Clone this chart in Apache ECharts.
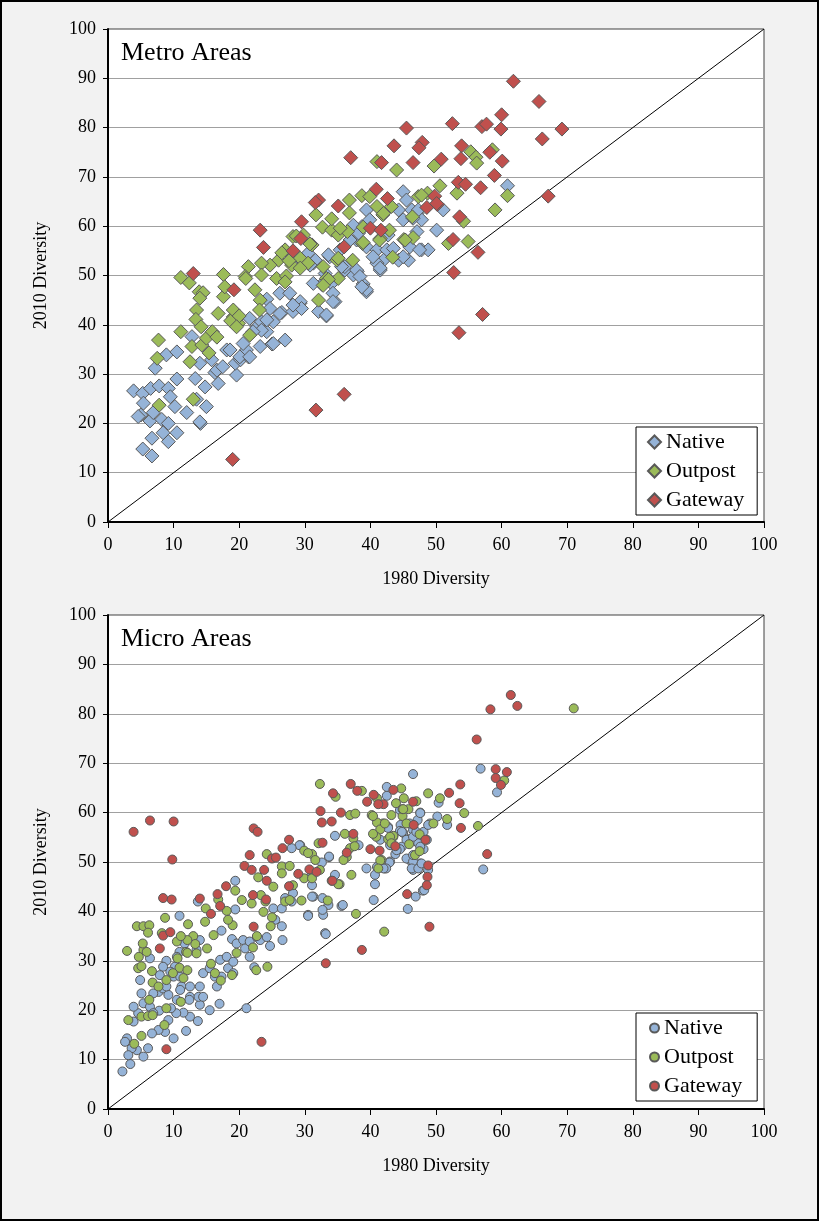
<!DOCTYPE html>
<html>
<head>
<meta charset="utf-8">
<script src="https://cdn.jsdelivr.net/npm/echarts@6/dist/echarts.min.js"></script>
<style>
html,body{margin:0;padding:0;background:#f2f2f2;}
#frame{position:absolute;left:0;top:0;width:819px;height:1221px;box-sizing:border-box;border:2px solid #000;pointer-events:none;z-index:2;}
#chart{position:absolute;left:0;top:0;width:819px;height:1221px;}
</style>
</head>
<body>
<div id="chart"></div>
<div id="frame"></div>
<script>
// ---------- data ----------
const seriesNames = ['Native', 'Outpost', 'Gateway'];
const panelTitles = ['Metro Areas', 'Micro Areas'];
const xTitle = '1980 Diversity';
const yTitle = '2010 Diversity';
const diagonal = [[0, 0], [100, 100]];

const metroNative = [
[3.9,26.6],[5.3,26.1],[6.5,27.1],[7.8,27.6],[5.4,24.1],[5.0,21.7],[6.4,20.5],[4.6,21.4],[6.9,22.2],[8.2,20.8],[9.2,20.0],[8.4,18.1],[10.5,18.1],[9.2,16.3],[6.7,17.0],[5.3,14.8],[6.7,13.4],[9.2,27.1],[9.5,25.4],[10.5,29.0],[10.2,23.4],[12.0,22.2],[14.1,20.0],[15.0,23.4],[13.5,24.9],[13.3,29.1],[14.8,27.4],[16.3,30.3],[16.8,28.1],[18.1,34.9],[19.6,29.8],[19.4,32.2],[20.2,32.9],[21.4,33.5],[21.1,34.9],[23.2,35.6],[24.2,38.6],[25.0,36.1],[27.0,36.9],[22.7,39.6],[26.5,42.5],[25.2,40.6],[23.4,40.6],[24.2,45.2],[26.2,46.4],[27.7,46.4],[29.3,44.4],[28.2,42.7],[32.1,42.7],[33.3,41.8],[34.6,44.7],[32.6,48.2],[31.3,48.4],[38.0,50.8],[38.9,48.3],[39.4,46.7],[41.5,51.1],[44.3,53.1],[45.8,53.1],[37.4,50.1],[36.1,51.1],[31.3,52.5],[28.2,52.8],[7.2,31.2],[8.9,33.9],[10.5,34.5],[12.8,37.6],[14.0,32.2],[15.8,32.9],[16.6,30.8],[17.5,31.5],
[45.0,67.0],[45.5,65.3],[44.3,63.3],[45.0,61.3],[46.3,63.3],[47.1,62.6],[47.8,61.3],[47.1,58.9],[45.3,57.2],[46.0,55.8],[45.0,53.8],[47.8,55.2],[48.8,55.2],[50.1,59.2],[51.1,63.3],[39.4,63.3],[39.9,61.3],[38.7,59.9],[37.4,60.2],[37.9,57.2],[39.4,55.8],[41.0,55.2],[42.5,55.2],[43.5,55.5],[42.0,53.1],[41.0,52.5],[40.4,53.8],[37.9,51.1],[38.4,49.8],[39.4,47.1],[38.7,47.7],[36.1,51.8],[33.8,53.8],[35.4,55.2],[31.6,53.1],[30.8,52.1],[33.1,50.4],[34.1,48.4],[34.3,46.4],[33.3,42.0],[29.3,44.7],[29.5,43.3],[28.2,44.0],[26.2,42.3],[24.7,43.3],[24.2,41.0],[23.4,38.9],[25.2,36.2],[21.6,41.3],[22.1,38.6],[20.6,36.2],[20.1,33.5],[21.6,33.5],[18.6,34.9],
[60.9,68.2],[47.3,63.3],[46.5,61.6],[42.7,58.2],[36.9,57.2],[38.2,58.6],[47.5,55.2],[41.5,51.5],[34.3,44.7],[30.5,54.5],[33.6,54.2],[35.6,51.8],[14.0,20.3]
];
const metroOutpost = [
[32.7,59.8],[34.1,59.2],[35.1,58.2],[36.5,58.9],[38.9,59.8],[41.5,57.5],[42.9,59.2],[45.1,57.3],[46.5,57.7],[46.4,61.9],[47.3,66.0],[48.7,66.7],[54.9,56.9],[51.9,56.5],[53.2,66.7],[31.1,56.2],[29.8,58.2],[28.2,57.9],[27.0,55.2],[26.0,53.1],[24.7,52.1],[23.4,52.5],[21.4,51.8],[20.9,49.8],[23.4,50.1],[25.7,49.4],[27.2,49.9],[28.0,52.1],[29.3,53.5],[30.5,52.5],[32.8,51.8],[33.3,49.4],[35.1,49.4],[34.9,53.1],[37.3,53.1],[38.8,56.5],[43.4,53.7],[22.4,47.1],[23.2,45.0],[21.6,37.9],[19.1,41.6],[19.9,40.3],[27.0,48.7],[32.1,45.0],
[44.0,71.4],[41.0,73.1],[49.7,72.2],[55.3,75.1],[56.1,74.0],[56.2,72.8],[58.6,75.5],[50.6,68.2],[60.9,66.2],[59.0,63.3],[47.8,66.3],[36.8,65.3],[36.8,62.7],[38.7,66.2],[39.9,66.0],[41.0,64.0],[41.9,62.3],[43.2,64.0],[31.7,62.3],[34.1,61.5],[35.4,59.6],[38.9,56.7],[45.3,57.2],[41.4,57.2],[30.8,56.4],[54.2,61.0],[35.1,53.5],[29.3,51.5],[33.6,49.2],[32.8,48.0],
[11.1,49.6],[12.4,48.5],[17.6,50.2],[13.9,46.7],[14.5,46.5],[14.0,45.4],[17.6,45.7],[17.8,47.7],[21.0,49.4],[23.1,43.0],[13.5,43.0],[13.4,41.1],[14.2,39.6],[16.8,42.3],[18.7,40.8],[19.1,43.0],[20.0,41.8],[19.6,39.6],[11.1,38.6],[7.7,36.9],[7.5,33.2],[12.5,32.5],[12.8,35.6],[14.3,35.9],[15.0,37.3],[15.9,38.6],[16.6,37.5],[15.4,34.3],[13.0,24.9],[7.8,23.7],[26.5,54.6],[27.6,53.0],[28.7,58.0],[42.0,62.6]
];
const metroGateway = [
[61.8,89.4],[65.7,85.3],[60.0,82.6],[69.2,79.7],[59.9,79.7],[57.0,80.2],[57.7,80.7],[52.5,80.8],[45.5,79.9],[66.2,77.7],[43.6,76.3],[47.9,77.0],[47.4,75.9],[53.9,76.3],[58.2,75.0],[37.0,73.9],[41.7,72.9],[46.5,72.9],[50.8,73.6],[53.8,73.7],[60.1,73.2],[58.9,70.3],[53.4,68.9],[54.5,68.5],[56.8,67.8],[40.9,67.5],[42.6,65.6],[49.8,66.1],[50.2,64.4],[48.6,63.8],[32.1,65.3],[31.6,64.8],[35.1,64.1],[29.5,60.9],[67.1,66.1],[53.6,61.9],[40.0,59.6],[41.6,59.2],[29.4,57.5],[36.0,55.8],[52.6,57.3],[56.4,54.7],[52.7,50.6],[57.1,42.1],[53.5,38.4],[23.2,59.2],[23.7,55.7],[28.2,55.0],[13.0,50.4],[19.2,47.1],[36.0,25.9],[31.7,22.7],[19.0,12.7],[50.1,64.6]
];

const microNative = [
[56.8,68.9],[46.5,67.8],[59.3,64.1],[57.2,48.5],[45.7,40.5],[46.9,43.0],[48.0,44.2],[42.5,63.4],[50.4,62.0],[51.7,57.5],[50.2,59.2],[47.6,60.0],[47.2,58.5],[49.1,57.8],[48.1,56.1],[46.5,56.5],[45.0,55.9],[43.8,51.6],[45.8,54.6],[47.3,53.8],[48.1,52.6],[46.0,50.4],[46.5,48.4],[47.6,49.7],[48.8,48.4],[43.0,50.1],[42.2,48.7],[41.5,54.5],[42.7,57.1],
[44.6,57.5],[46.0,57.8],[42.7,56.9],[34.6,55.3],[38.2,53.4],[33.7,51.0],[32.6,49.9],[29.3,53.4],[39.4,48.7],[40.7,47.4],[41.0,49.0],[42.9,49.9],[42.4,48.7],[40.7,45.5],[40.5,42.3],[44.5,56.3],[44.8,53.1],[45.5,54.5],[46.5,55.1],[44.5,52.6],[45.5,50.7],[46.5,50.1],[46.3,48.7],[47.3,48.7],[47.8,49.7],[48.2,44.3],[31.1,47.7],[31.3,43.0],[32.7,42.7],[33.6,41.3],[35.6,41.1],[30.5,39.3],[32.8,39.3],[33.1,35.6],
[42.5,65.2],[44.5,60.5],[47.6,59.9],[47.0,56.1],[44.8,56.1],[43.0,53.4],[44.0,52.4],[47.6,53.1],[46.5,51.4],[48.6,54.5],[48.8,57.5],
[10.9,39.1],[19.4,46.2],[19.4,40.4],[17.3,36.1],[18.9,34.4],[19.6,33.5],[20.6,34.2],[20.9,32.5],[21.6,33.9],[22.7,34.8],[21.6,30.8],[22.3,28.7],[23.2,34.2],[24.2,34.8],[24.7,33.0],[25.2,40.6],[25.5,38.3],[26.5,37.0],[26.6,34.2],[27.0,42.7],[28.2,43.7],[29.2,53.4],[28.0,52.8],[30.5,39.1],[31.1,43.0],[33.2,35.4],[33.7,51.1],[34.6,47.4],[35.8,41.3],[32.7,40.3],[31.1,45.3],[28.0,42.0],[26.5,40.6],[42.0,48.7],[21.1,20.4],[13.7,42.0],[10.5,22.1],[11.9,15.8],[13.7,17.8],[14.0,21.1],[12.5,18.7],[11.5,19.5],[10.4,19.4],[9.6,20.4],[9.2,18.0],[7.8,19.9],[10.0,14.3],[8.7,15.6],[7.7,16.0],[6.7,15.3],[5.4,10.6],[6.1,12.3],[4.4,11.9],[3.6,12.3],[2.9,14.3],[2.2,7.6],[3.4,9.1],[3.1,10.9],[2.6,13.6],[3.9,17.7],[4.6,19.4],[3.9,20.7],[5.1,23.4],[5.4,21.4],[6.4,20.7],[6.9,19.4],[7.7,23.7],[8.4,24.4],[9.2,23.1],[8.9,24.8],[10.0,26.8],[10.2,28.8],[11.0,26.8],[11.2,24.8],[12.5,24.8],[12.5,22.7],[13.8,22.7],[14.5,22.7],[14.0,24.8],[14.5,27.5],[15.5,28.5],[16.3,26.8],[16.6,24.8],[17.3,26.8],[17.1,30.2],[18.1,30.8],[18.3,28.5],[19.1,27.5],[19.1,29.8],[15.5,20.0],[17.0,21.3],[6.4,30.5],[4.9,26.1],[13.5,32.2],[14.0,34.2],[11.7,33.5],[10.9,31.8],[10.5,30.8],[8.9,30.0],[9.5,27.8],[8.4,28.8],[7.9,27.1],[6.9,23.4],[11.0,24.1],[12.4,22.1]
];
const microOutpost = [
[71.0,81.1],[60.4,66.5],[54.3,59.9],[56.4,57.3],[51.7,58.7],[50.6,62.9],[48.8,63.9],[44.7,64.9],[45.1,62.9],[43.9,61.9],[43.2,59.5],[44.9,59.3],[44.9,60.7],[45.8,60.7],[45.5,57.8],[47.5,55.6],[46.8,51.4],[47.5,52.2],[45.9,53.6],[41.9,57.8],[41.7,50.4],[42.1,35.9],[49.6,57.8],[43.5,55.1],
[32.3,65.8],[34.7,63.2],[38.7,64.4],[47.0,62.3],[36.9,59.5],[37.7,59.8],[40.2,59.5],[41.0,58.0],[41.5,56.6],[36.1,55.7],[32.1,53.8],[29.9,52.3],[31.1,51.6],[31.6,50.4],[36.9,52.8],[36.4,51.0],[35.9,50.4],[40.9,55.1],[42.7,54.6],[43.5,55.3],[41.5,50.3],[41.2,48.7],[32.3,48.4],[29.9,46.7],[31.1,46.7],[35.3,45.5],[37.1,47.4],[33.5,42.2],[29.5,42.2],[37.8,39.5],
[41.0,62.9],[40.4,59.3],[42.2,57.8],[45.0,60.7],[43.0,55.1],[43.2,53.8],[40.4,55.7],[37.4,54.8],[24.2,51.6],[30.5,51.8],[37.6,53.2],
[26.5,49.1],[27.7,49.2],[26.5,47.7],[27.0,42.0],[27.7,42.3],[28.2,45.3],[25.2,45.0],[25.0,38.8],[24.8,37.0],[23.7,39.9],[22.7,35.0],[22.1,32.7],[19.4,44.2],[20.4,42.3],[21.9,41.6],[24.0,42.0],[23.3,43.3],[22.9,46.9],[18.1,40.1],[19.0,37.2],[18.3,38.3],[16.8,42.4],[16.1,35.2],[14.9,40.6],[14.8,37.9],[15.1,32.5],[15.7,29.4],[16.3,27.5],[17.2,26.0],[18.9,27.1],[19.6,31.6],[13.0,35.0],[13.3,33.4],[13.5,31.5],[12.1,34.2],[12.2,37.4],[10.5,33.9],[11.1,35.0],[11.9,31.8],[10.6,30.5],[10.9,28.6],[12.1,28.1],[11.5,26.5],[12.1,31.6],[9.9,27.5],[8.9,26.1],[11.1,21.7],[6.7,27.9],[5.4,32.2],[4.7,30.8],[4.6,28.5],[5.1,28.9],[5.9,31.8],[4.4,37.0],[5.4,37.0],[6.3,37.2],[6.1,35.7],[5.3,33.5],[6.8,25.6],[7.7,24.8],[6.3,22.1],[5.1,18.7],[6.1,18.8],[6.8,19.0],[8.6,17.0],[2.9,32.0],[8.7,38.7],[8.2,35.6],[8.9,20.4],[5.1,14.8],[4.0,13.2],[3.1,18.0],[34.1,46.2],[35.1,45.5],[24.3,28.8],[22.6,28.1]
];
const microGateway = [
[61.4,83.8],[58.3,80.9],[62.4,81.6],[56.2,74.8],[59.1,68.8],[60.8,68.2],[59.1,67.0],[59.9,65.6],[53.7,65.7],[52.0,64.0],[53.6,61.9],[53.8,56.9],[43.5,64.6],[42.0,61.7],[46.5,62.2],[46.6,57.5],[48.4,54.5],[43.8,53.2],[48.8,49.3],[48.7,47.0],[48.6,45.3],[45.6,43.5],[49.0,36.9],[57.8,51.6],
[37.0,65.8],[34.3,63.9],[38.0,64.4],[40.5,63.6],[39.5,62.2],[41.2,61.7],[32.4,60.3],[35.5,60.0],[32.6,58.0],[34.1,58.2],[37.4,55.7],[41.4,52.3],[40.0,52.6],[36.4,51.9],[32.7,53.9],[30.7,48.5],[31.8,48.0],[34.2,46.2],[38.7,32.2],[33.2,29.5],
[9.8,50.5],[8.4,42.7],[9.7,42.4],[14.0,42.6],[16.7,43.5],[17.1,41.1],[15.7,39.5],[18.0,45.1],[20.8,49.2],[21.9,48.4],[22.1,43.3],[23.8,48.4],[24.2,46.2],[24.1,42.4],[22.2,36.9],[8.4,35.1],[9.5,35.8],[7.9,32.5],[8.9,12.1],[23.4,13.6],[27.6,45.1],[29.0,47.6],[26.6,52.8],[25.0,50.7],[25.6,50.9],[21.6,51.4],[27.6,54.5],
[3.9,56.1],[6.4,58.4],[10.0,58.2],[22.2,56.8],[22.8,56.1]
];

// ---------- styling ----------
const FONT = '"Liberation Serif", "Times New Roman", serif';
const colors = { Native: '#95b3d7', Outpost: '#9bbb59', Gateway: '#c0504d' };
const panels = [
  { top: 29, height: 493, symbol: 'diamond', size: 14, data: [metroNative, metroOutpost, metroGateway], legendTop: 427, icon: 'diamond', iconSize: 13, padL: 11, padR: 13, titleTop: 40 },
  { top: 615, height: 494, symbol: 'circle', size: 9, data: [microNative, microOutpost, microGateway], legendTop: 1013, icon: 'circle', iconSize: 9, padL: 13, padR: 15, titleTop: 626 }
];

const grids = [], xAxes = [], yAxes = [], series = [], legends = [], graphics = [];
panels.forEach((p, i) => {
  grids.push({ left: 108, top: p.top, width: 656, height: p.height, show: true, backgroundColor: '#fff', borderColor: '#404040', borderWidth: 1 });
  xAxes.push({
    gridIndex: i, type: 'value', min: 0, max: 100, interval: 10,
    axisLine: { show: true, onZero: false, lineStyle: { color: '#000', width: 2 } },
    axisTick: { show: true, length: 6, lineStyle: { color: '#000', width: 1 } },
    axisLabel: { color: '#000', fontFamily: FONT, fontSize: 18, margin: 14 },
    splitLine: { show: false },
    name: xTitle, nameLocation: 'middle', nameGap: 48,
    nameTextStyle: { color: '#000', fontFamily: FONT, fontSize: 18 }
  });
  yAxes.push({
    gridIndex: i, type: 'value', min: 0, max: 100, interval: 10,
    axisLine: { show: true, onZero: false, lineStyle: { color: '#000', width: 2 } },
    axisTick: { show: true, length: 5, lineStyle: { color: '#000', width: 1 } },
    axisLabel: { color: '#000', fontFamily: FONT, fontSize: 18, margin: 12 },
    splitLine: { show: true, lineStyle: { color: '#a0a0a0', width: 1 } },
    name: yTitle, nameLocation: 'middle', nameGap: 58, nameRotate: 90,
    nameTextStyle: { color: '#000', fontFamily: FONT, fontSize: 18 }
  });
  series.push({
    type: 'line', xAxisIndex: i, yAxisIndex: i, data: diagonal, symbol: 'none', silent: true,
    lineStyle: { color: '#000', width: 1 }, z: 1
  });
  seriesNames.forEach((n, k) => {
    series.push({
      name: n, type: 'scatter', xAxisIndex: i, yAxisIndex: i,
      symbol: p.symbol, symbolSize: p.size, data: p.data[k], z: 2 + k,
      itemStyle: { color: colors[n], borderColor: '#595959', borderWidth: 1, opacity: 1 }
    });
  });
  legends.push({
    orient: 'vertical', left: 636, top: p.legendTop, selectedMode: false,
    data: seriesNames.map(n => ({ name: n, icon: p.icon })),
    itemWidth: p.iconSize, itemHeight: p.iconSize, itemGap: 7,
    padding: [4, p.padR, 4, p.padL],
    backgroundColor: '#fff', borderColor: '#000', borderWidth: 1,
    textStyle: { color: '#000', fontFamily: FONT, fontSize: 22 }
  });
  graphics.push({ type: 'text', left: 121, top: p.titleTop, style: { text: panelTitles[i], font: '26px ' + FONT, fill: '#000' } });
});

const chart = echarts.init(document.getElementById('chart'), null, { renderer: 'canvas' });
chart.setOption({
  backgroundColor: 'transparent',
  animation: false,
  grid: grids, xAxis: xAxes, yAxis: yAxes, series: series, legend: legends, graphic: graphics
});
</script>
</body>
</html>
